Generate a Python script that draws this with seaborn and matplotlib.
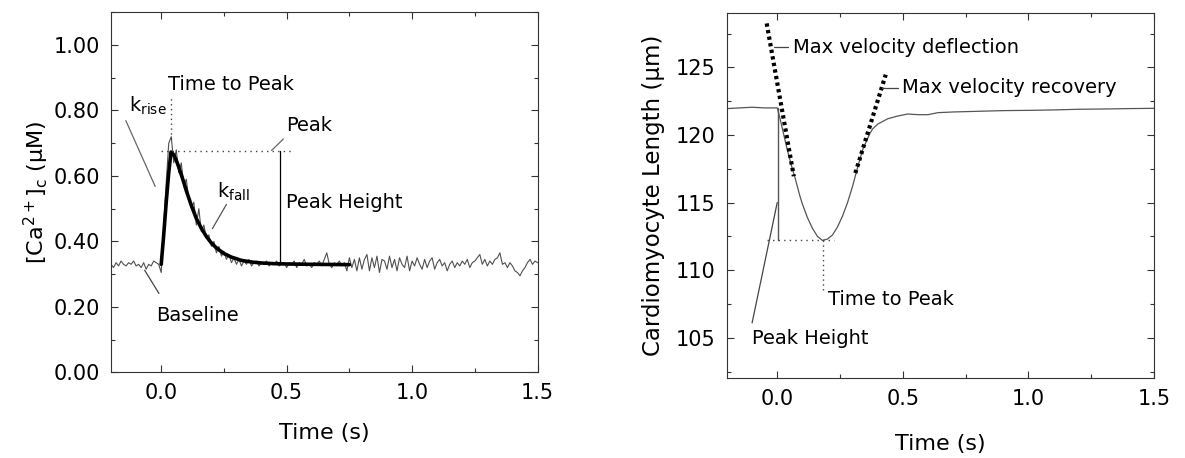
import numpy as np
import pandas as pd
import matplotlib
matplotlib.use("Agg")
import matplotlib.pyplot as plt
from matplotlib.ticker import MultipleLocator, FormatStrFormatter
import seaborn as sns

# calcium transient: raw trace sampled every 10 ms
raw_t = np.round(np.arange(-0.20, 1.505, 0.01), 2)
raw_ca = [
    0.33, 0.32, 0.335, 0.325, 0.34, 0.33, 0.325, 0.335, 0.33, 0.34,
    0.325, 0.33, 0.32, 0.335, 0.315, 0.33, 0.325, 0.34, 0.335, 0.33,
    0.305, 0.45, 0.58, 0.70, 0.72, 0.64, 0.68, 0.61, 0.64, 0.57,
    0.59, 0.53, 0.50, 0.52, 0.45, 0.50, 0.43, 0.45, 0.41, 0.42,
    0.385, 0.40, 0.365, 0.385, 0.355, 0.37, 0.345, 0.36, 0.335, 0.35,
    0.33, 0.345, 0.325, 0.34, 0.33, 0.345, 0.325, 0.335, 0.34, 0.325,
    0.335,
    0.33, 0.34, 0.325, 0.335, 0.33, 0.34, 0.325, 0.33, 0.335, 0.32,
    0.335, 0.33, 0.34, 0.32, 0.335, 0.33, 0.345, 0.325, 0.33, 0.32,
    0.335, 0.33, 0.34, 0.325, 0.345, 0.365, 0.33, 0.32, 0.335, 0.33,
    0.34, 0.325, 0.335, 0.31, 0.35, 0.32, 0.345, 0.31, 0.35, 0.315,
    0.345, 0.36, 0.31, 0.35, 0.32, 0.355, 0.305, 0.345, 0.34, 0.315,
    0.355, 0.32, 0.345, 0.31, 0.35, 0.33, 0.32, 0.355, 0.31, 0.34,
    0.325, 0.35, 0.33, 0.315, 0.345, 0.32, 0.34, 0.35, 0.315, 0.335,
    0.345, 0.325, 0.335, 0.31, 0.33, 0.34, 0.32, 0.335, 0.325, 0.34,
    0.33, 0.345, 0.32, 0.335, 0.34, 0.35, 0.36, 0.33, 0.345, 0.325,
    0.34, 0.33, 0.345, 0.35, 0.365, 0.33, 0.335, 0.32, 0.335, 0.325,
    0.31, 0.305, 0.295, 0.31, 0.32, 0.335, 0.345, 0.33, 0.34, 0.335,
]

# fitted transient
fit_t = [0.0, 0.01, 0.02, 0.03, 0.039, 0.05, 0.06, 0.07, 0.08, 0.09, 0.10,
         0.12, 0.14, 0.16, 0.18, 0.20, 0.22, 0.25, 0.28, 0.32, 0.36, 0.40,
         0.45, 0.50, 0.60, 0.75]
fit_ca = [0.33, 0.42, 0.52, 0.61, 0.673, 0.665, 0.648, 0.627, 0.604, 0.58, 0.555,
          0.51, 0.47, 0.44, 0.415, 0.395, 0.38, 0.363, 0.352, 0.342, 0.337, 0.334,
          0.332, 0.331, 0.33, 0.329]

# cell shortening trace
len_t = [-0.20, -0.15, -0.10, -0.05, 0.0, 0.01, 0.02, 0.03, 0.04, 0.05, 0.06,
         0.07, 0.08, 0.09, 0.10, 0.12, 0.14, 0.16, 0.18, 0.20, 0.22, 0.24, 0.26,
         0.28, 0.30, 0.32, 0.34, 0.36, 0.37, 0.38, 0.40, 0.44, 0.48, 0.52, 0.56,
         0.60, 0.64, 0.70, 0.80, 0.90, 1.00, 1.10, 1.20, 1.30, 1.40, 1.50]
len_um = [121.95, 122.0, 122.05, 122.0, 122.0, 121.3, 120.5, 119.7, 118.9, 118.2, 117.5,
          116.9, 116.2, 115.5, 114.9, 113.9, 113.1, 112.5, 112.2, 112.3, 112.6, 113.2, 114.0,
          115.0, 116.2, 117.6, 118.9, 119.75, 120.15, 120.45, 120.8, 121.2, 121.4, 121.55,
          121.5, 121.5, 121.65, 121.7, 121.75, 121.8, 121.82, 121.85, 121.9, 121.92, 121.95,
          121.97]

# max velocity tangents
defl_t = [-0.042, 0.066]
defl_um = [128.25, 116.95]
reco_t = [0.311, 0.432]
reco_um = [117.18, 124.46]

# landmarks
ca_peak_t, ca_peak, ca_base = 0.039, 0.675, 0.332
len_peak_t, len_min, len_base = 0.182, 112.2, 122.0

df_raw = pd.DataFrame({"t": raw_t, "ca": raw_ca})
df_fit = pd.DataFrame({"t": fit_t, "ca": fit_ca})
df_len = pd.DataFrame({"t": len_t, "um": len_um})

sns.set_style("ticks")
plt.rcParams["font.family"] = ["DejaVu Sans"]
plt.rcParams["text.color"] = "black"
plt.rcParams["axes.labelcolor"] = "black"
plt.rcParams["xtick.color"] = "black"
plt.rcParams["ytick.color"] = "black"

fig = plt.figure(figsize=(11.85, 4.58), dpi=100)
ax1 = fig.add_axes([0.0937, 0.1871, 0.3599, 0.7860])
ax2 = fig.add_axes([0.6135, 0.174, 0.3603, 0.797])

tfs = 14
lead = "#444444"

# ---- left: calcium ----
sns.lineplot(data=df_raw, x="t", y="ca", ax=ax1, color="#505050", lw=0.8)
sns.lineplot(data=df_fit, x="t", y="ca", ax=ax1, color="black", lw=2.6)

ax1.plot([ca_peak_t, ca_peak_t], [0.714, 0.845], ls=(0, (1, 2.5)), color="#444", lw=1)
ax1.plot([0.0, 0.52], [ca_peak, ca_peak], ls=(0, (1, 3)), color="#444", lw=1)
ax1.plot([0.474, 0.474], [ca_base, ca_peak], color="black", lw=0.9)
ax1.plot([-0.141, -0.024], [0.769, 0.568], color="#666", lw=0.9)
ax1.plot([0.44, 0.487], [0.678, 0.713], color="#666", lw=0.9)
ax1.plot([0.26, 0.204], [0.513, 0.439], color="#555", lw=0.9)
ax1.plot([-0.066, -0.009], [0.312, 0.241], color=lead, lw=0.9)

ax1.text(0.029, 0.879, "Time to Peak", fontsize=tfs, va="center")
ax1.text(-0.128, 0.795, r"k$_{\rm rise}$", fontsize=tfs, va="baseline")
ax1.text(0.497, 0.754, "Peak", fontsize=tfs, va="center")
ax1.text(0.497, 0.52, "Peak Height", fontsize=tfs, va="center")
ax1.text(0.222, 0.533, r"k$_{\rm fall}$", fontsize=tfs, va="baseline")
ax1.text(-0.02, 0.175, "Baseline", fontsize=tfs, va="center")

ax1.set_xlim(-0.2, 1.5)
ax1.set_ylim(0, 1.1)
ax1.yaxis.set_major_locator(MultipleLocator(0.2))
ax1.yaxis.set_minor_locator(MultipleLocator(0.1))
ax1.yaxis.set_major_formatter(FormatStrFormatter("%.2f"))
ax1.set_xlabel("Time (s)", fontsize=16, labelpad=14)
ax1.set_ylabel(r"[Ca$^{2+}$]$_{\rm c}$ (μM)", fontsize=16, labelpad=2)

# ---- right: length ----
sns.lineplot(data=df_len, x="t", y="um", ax=ax2, color="#555555", lw=0.9)
ax2.plot(defl_t, defl_um, ls=(0, (0.8, 0.8)), color="black", lw=3)
ax2.plot(reco_t, reco_um, ls=(0, (0.8, 0.8)), color="black", lw=3)

ax2.plot([0.002, 0.002], [len_base, len_min], color="#555", lw=1)
ax2.plot([-0.041, 0.228], [len_min, len_min], ls=(0, (1, 3)), color="#444", lw=1)
ax2.plot([len_peak_t, len_peak_t], [len_min, 108.3], ls=(0, (1, 2.5)), color="#444", lw=1)
ax2.plot([0.0, -0.1], [115.0, 106.1], color=lead, lw=0.9)
ax2.plot([-0.011, 0.042], [126.5, 126.5], color=lead, lw=0.9)
ax2.plot([0.419, 0.481], [123.5, 123.5], color=lead, lw=0.9)

ax2.text(0.062, 126.5, "Max velocity deflection", fontsize=tfs, va="center")
ax2.text(0.498, 123.5, "Max velocity recovery", fontsize=tfs, va="center")
ax2.text(0.202, 107.8, "Time to Peak", fontsize=tfs, va="center")
ax2.text(-0.1, 104.97, "Peak Height", fontsize=tfs, va="center")

ax2.set_xlim(-0.2, 1.5)
ax2.set_ylim(102, 129)
ax2.yaxis.set_major_locator(MultipleLocator(5))
ax2.yaxis.set_minor_locator(MultipleLocator(2.5))
ax2.set_xlabel("Time (s)", fontsize=16, labelpad=18)
ax2.set_ylabel("Cardiomyocyte Length (μm)", fontsize=16.5, labelpad=8)

for ax in (ax1, ax2):
    ax.xaxis.set_major_locator(MultipleLocator(0.5))
    ax.xaxis.set_minor_locator(MultipleLocator(0.25))
    ax.xaxis.set_major_formatter(FormatStrFormatter("%.1f"))
    ax.tick_params(which="both", direction="in", top=True, right=True,
                   labelsize=15, width=0.8, color="#333", labelcolor="black")
    ax.tick_params(which="major", length=5, pad=8)
    ax.tick_params(which="minor", length=3)
    for s in ax.spines.values():
        s.set_linewidth(0.8)
        s.set_color("#333")

fig.savefig("out.png", dpi=100)
